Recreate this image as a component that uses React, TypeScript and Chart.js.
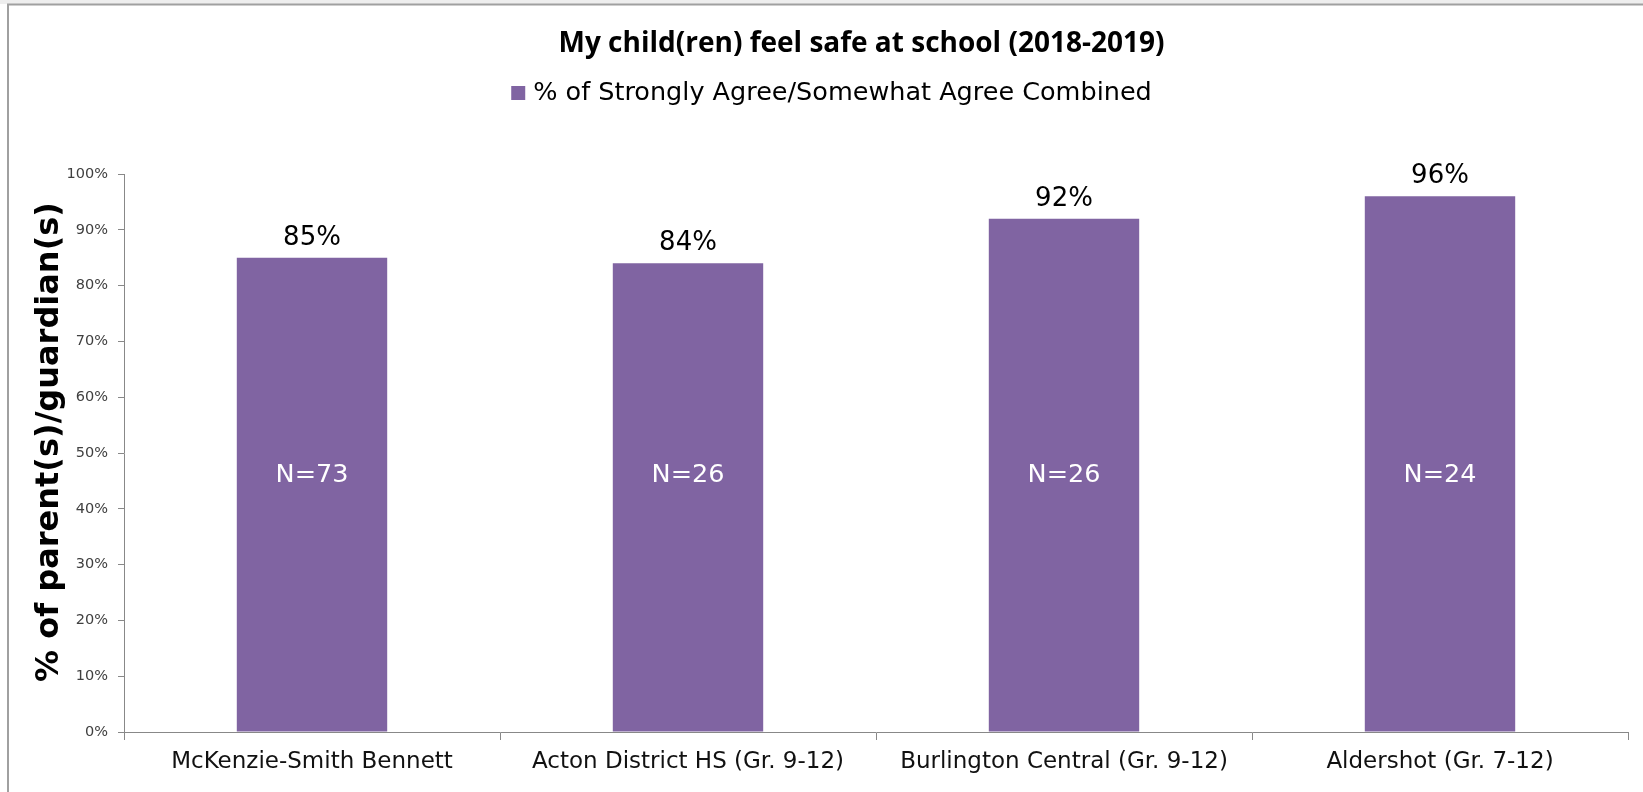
import { useEffect, useRef } from "react";
import { Chart, registerables } from "chart.js";

Chart.register(...registerables);

const chartTitle = "My child(ren) feel safe at school (2018-2019)";
const seriesLabel = "% of Strongly Agree/Somewhat Agree Combined";
const yAxisTitle = "% of parent(s)/guardian(s)";
const categories = [
  "McKenzie-Smith Bennett",
  "Acton District HS (Gr. 9-12)",
  "Burlington Central (Gr. 9-12)",
  "Aldershot (Gr. 7-12)",
];
const percentValues = [85, 84, 92, 96];
const sampleSizes = [73, 26, 26, 24];
const yMin = 0;
const yMax = 100;
const yStep = 10;
// level (in axis units) at which the "N=" labels sit inside the bars
const sampleLabelLevel = 46;

const BAR_COLOR = "#8064A2";
const AXIS_COLOR = "#888888";
const FONT = "'DejaVu Sans', Verdana, sans-serif";

const decorations = {
  id: "decorations",
  beforeDraw(chart: any) {
    const { ctx, width, height } = chart;
    ctx.save();
    ctx.fillStyle = "#ffffff";
    ctx.fillRect(0, 0, width, height);
    ctx.fillStyle = "#eeeeee";
    ctx.fillRect(0, 0, width, 4);
    ctx.strokeStyle = "#a0a0a0";
    ctx.lineWidth = 2;
    ctx.beginPath();
    ctx.moveTo(8, height);
    ctx.lineTo(8, 4.5);
    ctx.lineTo(width, 4.5);
    ctx.stroke();
    ctx.restore();
  },
  afterDatasetsDraw(chart: any) {
    const { ctx } = chart;
    const meta = chart.getDatasetMeta(0);
    const yScale = chart.scales.y;
    ctx.save();
    ctx.textAlign = "center";
    meta.data.forEach((bar: any, i: number) => {
      const { x, y } = bar.getProps(["x", "y"], true);
      ctx.font = `26px ${FONT}`;
      ctx.fillStyle = "#000000";
      ctx.textBaseline = "alphabetic";
      ctx.fillText(`${percentValues[i]}%`, x, y - 13);
      ctx.font = `25.5px ${FONT}`;
      ctx.fillStyle = "#ffffff";
      ctx.textBaseline = "middle";
      ctx.fillText(`N=${sampleSizes[i]}`, x, yScale.getPixelForValue(sampleLabelLevel));
    });
    ctx.restore();
  },
  afterDraw(chart: any) {
    const { ctx, width, chartArea } = chart;
    ctx.save();
    // chart title
    ctx.font = `bold 28px 'Open Sans', sans-serif`;
    ctx.fillStyle = "#000000";
    ctx.textAlign = "center";
    ctx.textBaseline = "middle";
    ctx.fillText(chartTitle, width / 2 + 40, 44);
    // legend
    ctx.font = `25.5px ${FONT}`;
    const tw = ctx.measureText(seriesLabel).width;
    const box = 14;
    const gap = 8;
    const total = box + gap + tw;
    const left = width / 2 + 10 - total / 2;
    const cy = 93;
    ctx.fillStyle = BAR_COLOR;
    ctx.fillRect(left, cy - box / 2, box, box);
    ctx.fillStyle = "#000000";
    ctx.textAlign = "left";
    ctx.fillText(seriesLabel, left + box + gap, cy);
    // y axis title
    ctx.font = `bold 32px ${FONT}`;
    ctx.textAlign = "center";
    ctx.translate(50, (chartArea.top + chartArea.bottom) / 2 - 11);
    ctx.rotate(-Math.PI / 2);
    ctx.fillText(yAxisTitle, 0, 0);
    ctx.restore();
  },
};

export default function App() {
  const canvasRef = useRef<HTMLCanvasElement | null>(null);

  useEffect(() => {
    document.body.style.margin = "0";
    const canvas = canvasRef.current;
    if (!canvas) return;
    const chart = new Chart(canvas, {
      type: "bar",
      data: {
        labels: categories,
        datasets: [
          {
            label: seriesLabel,
            data: percentValues,
            backgroundColor: BAR_COLOR,
            borderWidth: 0,
            barPercentage: 0.4,
            categoryPercentage: 1.0,
          },
        ],
      },
      options: {
        responsive: false,
        animation: false,
        layout: { padding: { left: 0, right: 15, top: 174, bottom: 0 } },
        plugins: {
          legend: { display: false },
          tooltip: { enabled: false },
          title: { display: false },
        },
        scales: {
          x: {
            grid: {
              display: true,
              drawOnChartArea: false,
              drawTicks: true,
              tickLength: 8,
              color: AXIS_COLOR,
              offset: true,
            },
            border: { display: true, color: AXIS_COLOR, width: 1 },
            ticks: {
              color: "#111111",
              font: { family: FONT, size: 23 },
              padding: 8,
              maxRotation: 0,
              autoSkip: false,
            },
            afterFit: (s: any) => {
              s.height = 60;
            },
          },
          y: {
            min: yMin,
            max: yMax,
            grid: {
              display: true,
              drawOnChartArea: false,
              drawTicks: true,
              tickLength: 6,
              color: AXIS_COLOR,
            },
            border: { display: true, color: AXIS_COLOR, width: 1 },
            ticks: {
              stepSize: yStep,
              color: "#404040",
              font: { family: FONT, size: 14.5 },
              padding: 10,
              callback: (v: any) => `${v}%`,
            },
            title: { display: false, text: yAxisTitle },
            afterFit: (s: any) => {
              s.width = 124;
            },
          },
        },
      },
      plugins: [decorations],
    });
    return () => chart.destroy();
  }, []);

  return (
    <div style={{ position: "absolute", left: 0, top: 0, width: 1643, height: 792 }}>
      <canvas ref={canvasRef} width={1643} height={792} />
    </div>
  );
}
